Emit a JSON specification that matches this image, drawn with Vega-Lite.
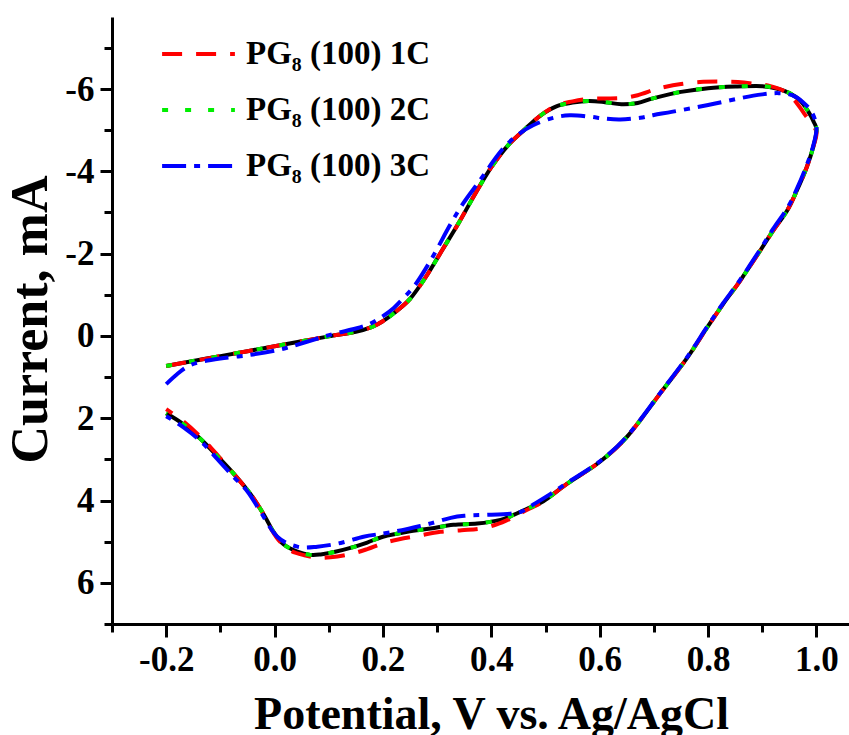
{
  "$schema": "https://vega.github.io/schema/vega-lite/v6.json",
  "width": 737,
  "height": 607,
  "autosize": {"type": "none"},
  "padding": {"left": 112, "top": 17, "right": 0, "bottom": 111},
  "background": "white",
  "config": {
    "view": {"stroke": null},
    "axis": {
      "grid": false,
      "domainColor": "black",
      "domainWidth": 3,
      "tickColor": "black",
      "tickWidth": 3,
      "labelColor": "black",
      "titleColor": "black",
      "labelFont": "Liberation Serif",
      "labelFontWeight": "bold",
      "titleFont": "Liberation Serif",
      "titleFontWeight": "bold",
      "labelOverlap": false,
      "labelFlush": false
    },
    "legend": {
      "title": null,
      "orient": "none",
      "legendX": 48,
      "legendY": 22,
      "symbolType": "stroke",
      "symbolSize": 5300,
      "symbolStrokeWidth": 4,
      "labelFontSize": 33,
      "labelFont": "Liberation Serif",
      "labelFontWeight": "bold",
      "labelColor": "black",
      "labelOffset": 9,
      "rowPadding": 23,
      "clipHeight": 30,
      "padding": 0,
      "labelLimit": 400
    }
  },
  "datasets": {
    "base": [
      {"i":1,"v":-0.2,"c":0.73},{"i":2,"v":-0.15,"c":0.61},{"i":3,"v":-0.1,"c":0.49},{"i":4,"v":-0.05,"c":0.37},{"i":5,"v":0.0,"c":0.25},{"i":6,"v":0.05,"c":0.13},{"i":7,"v":0.1,"c":0.01},{"i":8,"v":0.15,"c":-0.1},{"i":9,"v":0.18,"c":-0.22},{"i":10,"v":0.2,"c":-0.36},{"i":11,"v":0.22,"c":-0.55},{"i":12,"v":0.25,"c":-0.9},{"i":13,"v":0.28,"c":-1.45},{"i":14,"v":0.31,"c":-2.1},{"i":15,"v":0.34,"c":-2.75},{"i":16,"v":0.37,"c":-3.45},{"i":17,"v":0.4,"c":-4.1},{"i":18,"v":0.43,"c":-4.62},{"i":19,"v":0.46,"c":-5.0},{"i":20,"v":0.49,"c":-5.35},{"i":21,"v":0.52,"c":-5.58},{"i":22,"v":0.55,"c":-5.67},{"i":23,"v":0.58,"c":-5.71},{"i":24,"v":0.61,"c":-5.68},{"i":25,"v":0.64,"c":-5.63},{"i":26,"v":0.67,"c":-5.66},{"i":27,"v":0.7,"c":-5.78},{"i":28,"v":0.75,"c":-5.93},{"i":29,"v":0.8,"c":-6.02},{"i":30,"v":0.85,"c":-6.06},{"i":31,"v":0.9,"c":-6.07},{"i":32,"v":0.93,"c":-6.0},{"i":33,"v":0.95,"c":-5.9},{"i":34,"v":0.97,"c":-5.72},{"i":35,"v":0.985,"c":-5.45},{"i":36,"v":0.995,"c":-5.2},{"i":37,"v":1.0,"c":-5.0},
      {"i":38,"v":0.994,"c":-4.59},{"i":39,"v":0.982,"c":-4.1},{"i":40,"v":0.964,"c":-3.54},{"i":41,"v":0.946,"c":-3.05},{"i":42,"v":0.92,"c":-2.56},{"i":43,"v":0.896,"c":-2.07},{"i":44,"v":0.859,"c":-1.34},{"i":45,"v":0.828,"c":-0.78},{"i":46,"v":0.798,"c":-0.2},{"i":47,"v":0.761,"c":0.54},{"i":48,"v":0.712,"c":1.39},{"i":49,"v":0.651,"c":2.44},{"i":50,"v":0.601,"c":3.05},{"i":51,"v":0.54,"c":3.59},{"i":52,"v":0.496,"c":4.02},{"i":53,"v":0.466,"c":4.2},{"i":54,"v":0.441,"c":4.35},{"i":55,"v":0.417,"c":4.47},{"i":56,"v":0.374,"c":4.56},{"i":57,"v":0.33,"c":4.59},{"i":58,"v":0.288,"c":4.68},{"i":59,"v":0.245,"c":4.76},{"i":60,"v":0.2,"c":4.88},{"i":61,"v":0.171,"c":5.02},{"i":62,"v":0.14,"c":5.15},{"i":63,"v":0.11,"c":5.25},{"i":64,"v":0.085,"c":5.31},{"i":65,"v":0.066,"c":5.32},{"i":66,"v":0.042,"c":5.24},{"i":67,"v":0.017,"c":5.07},{"i":68,"v":-0.002,"c":4.76},{"i":69,"v":-0.02,"c":4.34},{"i":70,"v":-0.044,"c":3.85},{"i":71,"v":-0.076,"c":3.34},{"i":72,"v":-0.105,"c":2.93},{"i":73,"v":-0.136,"c":2.51},{"i":74,"v":-0.168,"c":2.15},{"i":75,"v":-0.2,"c":1.88}
    ],
    "cycles": [
      {"s":"PG₈ (100) 1C","i":1,"v":-0.2,"c":0.73},{"s":"PG₈ (100) 1C","i":2,"v":-0.15,"c":0.61},{"s":"PG₈ (100) 1C","i":3,"v":-0.1,"c":0.49},{"s":"PG₈ (100) 1C","i":4,"v":-0.05,"c":0.37},{"s":"PG₈ (100) 1C","i":5,"v":0.0,"c":0.25},{"s":"PG₈ (100) 1C","i":6,"v":0.05,"c":0.13},{"s":"PG₈ (100) 1C","i":7,"v":0.1,"c":0.01},{"s":"PG₈ (100) 1C","i":8,"v":0.15,"c":-0.1},{"s":"PG₈ (100) 1C","i":9,"v":0.18,"c":-0.22},{"s":"PG₈ (100) 1C","i":10,"v":0.2,"c":-0.36},{"s":"PG₈ (100) 1C","i":11,"v":0.22,"c":-0.55},{"s":"PG₈ (100) 1C","i":12,"v":0.25,"c":-0.9},{"s":"PG₈ (100) 1C","i":13,"v":0.28,"c":-1.45},{"s":"PG₈ (100) 1C","i":14,"v":0.31,"c":-2.1},{"s":"PG₈ (100) 1C","i":15,"v":0.34,"c":-2.75},{"s":"PG₈ (100) 1C","i":16,"v":0.37,"c":-3.45},{"s":"PG₈ (100) 1C","i":17,"v":0.4,"c":-4.1},{"s":"PG₈ (100) 1C","i":18,"v":0.43,"c":-4.62},{"s":"PG₈ (100) 1C","i":19,"v":0.46,"c":-5.0},{"s":"PG₈ (100) 1C","i":20,"v":0.49,"c":-5.35},{"s":"PG₈ (100) 1C","i":21,"v":0.52,"c":-5.6},{"s":"PG₈ (100) 1C","i":22,"v":0.55,"c":-5.7},{"s":"PG₈ (100) 1C","i":23,"v":0.58,"c":-5.76},{"s":"PG₈ (100) 1C","i":24,"v":0.61,"c":-5.77},{"s":"PG₈ (100) 1C","i":25,"v":0.64,"c":-5.78},{"s":"PG₈ (100) 1C","i":26,"v":0.67,"c":-5.85},{"s":"PG₈ (100) 1C","i":27,"v":0.7,"c":-5.98},{"s":"PG₈ (100) 1C","i":28,"v":0.72,"c":-6.05},{"s":"PG₈ (100) 1C","i":29,"v":0.75,"c":-6.12},{"s":"PG₈ (100) 1C","i":30,"v":0.785,"c":-6.17},{"s":"PG₈ (100) 1C","i":31,"v":0.82,"c":-6.18},{"s":"PG₈ (100) 1C","i":32,"v":0.855,"c":-6.17},{"s":"PG₈ (100) 1C","i":33,"v":0.89,"c":-6.12},{"s":"PG₈ (100) 1C","i":34,"v":0.915,"c":-6.07},{"s":"PG₈ (100) 1C","i":35,"v":0.94,"c":-5.95},{"s":"PG₈ (100) 1C","i":36,"v":0.96,"c":-5.72},{"s":"PG₈ (100) 1C","i":37,"v":0.977,"c":-5.41},{"s":"PG₈ (100) 1C","i":38,"v":0.99,"c":-5.17},{"s":"PG₈ (100) 1C","i":39,"v":1.0,"c":-4.95},
      {"s":"PG₈ (100) 1C","i":40,"v":0.994,"c":-4.59},{"s":"PG₈ (100) 1C","i":41,"v":0.982,"c":-4.1},{"s":"PG₈ (100) 1C","i":42,"v":0.964,"c":-3.54},{"s":"PG₈ (100) 1C","i":43,"v":0.946,"c":-3.05},{"s":"PG₈ (100) 1C","i":44,"v":0.92,"c":-2.56},{"s":"PG₈ (100) 1C","i":45,"v":0.896,"c":-2.07},{"s":"PG₈ (100) 1C","i":46,"v":0.859,"c":-1.34},{"s":"PG₈ (100) 1C","i":47,"v":0.828,"c":-0.78},{"s":"PG₈ (100) 1C","i":48,"v":0.798,"c":-0.2},{"s":"PG₈ (100) 1C","i":49,"v":0.761,"c":0.54},{"s":"PG₈ (100) 1C","i":50,"v":0.712,"c":1.39},{"s":"PG₈ (100) 1C","i":51,"v":0.651,"c":2.44},{"s":"PG₈ (100) 1C","i":52,"v":0.601,"c":3.05},{"s":"PG₈ (100) 1C","i":53,"v":0.54,"c":3.59},{"s":"PG₈ (100) 1C","i":54,"v":0.496,"c":4.02},{"s":"PG₈ (100) 1C","i":55,"v":0.459,"c":4.27},{"s":"PG₈ (100) 1C","i":56,"v":0.435,"c":4.44},{"s":"PG₈ (100) 1C","i":57,"v":0.41,"c":4.58},{"s":"PG₈ (100) 1C","i":58,"v":0.38,"c":4.68},{"s":"PG₈ (100) 1C","i":59,"v":0.345,"c":4.72},{"s":"PG₈ (100) 1C","i":60,"v":0.306,"c":4.76},{"s":"PG₈ (100) 1C","i":61,"v":0.264,"c":4.86},{"s":"PG₈ (100) 1C","i":62,"v":0.23,"c":4.94},{"s":"PG₈ (100) 1C","i":63,"v":0.2,"c":5.04},{"s":"PG₈ (100) 1C","i":64,"v":0.171,"c":5.18},{"s":"PG₈ (100) 1C","i":65,"v":0.14,"c":5.3},{"s":"PG₈ (100) 1C","i":66,"v":0.103,"c":5.38},{"s":"PG₈ (100) 1C","i":67,"v":0.08,"c":5.39},{"s":"PG₈ (100) 1C","i":68,"v":0.055,"c":5.33},{"s":"PG₈ (100) 1C","i":69,"v":0.03,"c":5.22},{"s":"PG₈ (100) 1C","i":70,"v":0.01,"c":5.0},{"s":"PG₈ (100) 1C","i":71,"v":-0.005,"c":4.72},{"s":"PG₈ (100) 1C","i":72,"v":-0.02,"c":4.34},{"s":"PG₈ (100) 1C","i":73,"v":-0.044,"c":3.85},{"s":"PG₈ (100) 1C","i":74,"v":-0.076,"c":3.34},{"s":"PG₈ (100) 1C","i":75,"v":-0.105,"c":2.9},{"s":"PG₈ (100) 1C","i":76,"v":-0.136,"c":2.46},{"s":"PG₈ (100) 1C","i":77,"v":-0.168,"c":2.08},{"s":"PG₈ (100) 1C","i":78,"v":-0.2,"c":1.78},

      {"s":"PG₈ (100) 2C","i":1,"v":-0.2,"c":0.73},{"s":"PG₈ (100) 2C","i":2,"v":-0.15,"c":0.61},{"s":"PG₈ (100) 2C","i":3,"v":-0.1,"c":0.49},{"s":"PG₈ (100) 2C","i":4,"v":-0.05,"c":0.37},{"s":"PG₈ (100) 2C","i":5,"v":0.0,"c":0.25},{"s":"PG₈ (100) 2C","i":6,"v":0.05,"c":0.13},{"s":"PG₈ (100) 2C","i":7,"v":0.1,"c":0.01},{"s":"PG₈ (100) 2C","i":8,"v":0.15,"c":-0.1},{"s":"PG₈ (100) 2C","i":9,"v":0.18,"c":-0.22},{"s":"PG₈ (100) 2C","i":10,"v":0.2,"c":-0.36},{"s":"PG₈ (100) 2C","i":11,"v":0.22,"c":-0.55},{"s":"PG₈ (100) 2C","i":12,"v":0.25,"c":-0.9},{"s":"PG₈ (100) 2C","i":13,"v":0.28,"c":-1.45},{"s":"PG₈ (100) 2C","i":14,"v":0.31,"c":-2.1},{"s":"PG₈ (100) 2C","i":15,"v":0.34,"c":-2.75},{"s":"PG₈ (100) 2C","i":16,"v":0.37,"c":-3.45},{"s":"PG₈ (100) 2C","i":17,"v":0.4,"c":-4.1},{"s":"PG₈ (100) 2C","i":18,"v":0.43,"c":-4.62},{"s":"PG₈ (100) 2C","i":19,"v":0.46,"c":-5.0},{"s":"PG₈ (100) 2C","i":20,"v":0.49,"c":-5.35},{"s":"PG₈ (100) 2C","i":21,"v":0.52,"c":-5.58},{"s":"PG₈ (100) 2C","i":22,"v":0.55,"c":-5.67},{"s":"PG₈ (100) 2C","i":23,"v":0.58,"c":-5.71},{"s":"PG₈ (100) 2C","i":24,"v":0.61,"c":-5.68},{"s":"PG₈ (100) 2C","i":25,"v":0.64,"c":-5.63},{"s":"PG₈ (100) 2C","i":26,"v":0.67,"c":-5.66},{"s":"PG₈ (100) 2C","i":27,"v":0.7,"c":-5.78},{"s":"PG₈ (100) 2C","i":28,"v":0.75,"c":-5.93},{"s":"PG₈ (100) 2C","i":29,"v":0.8,"c":-6.02},{"s":"PG₈ (100) 2C","i":30,"v":0.85,"c":-6.06},{"s":"PG₈ (100) 2C","i":31,"v":0.9,"c":-6.07},{"s":"PG₈ (100) 2C","i":32,"v":0.93,"c":-6.0},{"s":"PG₈ (100) 2C","i":33,"v":0.95,"c":-5.9},{"s":"PG₈ (100) 2C","i":34,"v":0.97,"c":-5.72},{"s":"PG₈ (100) 2C","i":35,"v":0.985,"c":-5.45},{"s":"PG₈ (100) 2C","i":36,"v":0.995,"c":-5.2},{"s":"PG₈ (100) 2C","i":37,"v":1.0,"c":-5.0},
      {"s":"PG₈ (100) 2C","i":38,"v":0.994,"c":-4.59},{"s":"PG₈ (100) 2C","i":39,"v":0.982,"c":-4.1},{"s":"PG₈ (100) 2C","i":40,"v":0.964,"c":-3.54},{"s":"PG₈ (100) 2C","i":41,"v":0.946,"c":-3.05},{"s":"PG₈ (100) 2C","i":42,"v":0.92,"c":-2.56},{"s":"PG₈ (100) 2C","i":43,"v":0.896,"c":-2.07},{"s":"PG₈ (100) 2C","i":44,"v":0.859,"c":-1.34},{"s":"PG₈ (100) 2C","i":45,"v":0.828,"c":-0.78},{"s":"PG₈ (100) 2C","i":46,"v":0.798,"c":-0.2},{"s":"PG₈ (100) 2C","i":47,"v":0.761,"c":0.54},{"s":"PG₈ (100) 2C","i":48,"v":0.712,"c":1.39},{"s":"PG₈ (100) 2C","i":49,"v":0.651,"c":2.44},{"s":"PG₈ (100) 2C","i":50,"v":0.601,"c":3.05},{"s":"PG₈ (100) 2C","i":51,"v":0.54,"c":3.59},{"s":"PG₈ (100) 2C","i":52,"v":0.496,"c":4.02},{"s":"PG₈ (100) 2C","i":53,"v":0.466,"c":4.2},{"s":"PG₈ (100) 2C","i":54,"v":0.441,"c":4.35},{"s":"PG₈ (100) 2C","i":55,"v":0.417,"c":4.47},{"s":"PG₈ (100) 2C","i":56,"v":0.374,"c":4.56},{"s":"PG₈ (100) 2C","i":57,"v":0.33,"c":4.59},{"s":"PG₈ (100) 2C","i":58,"v":0.288,"c":4.68},{"s":"PG₈ (100) 2C","i":59,"v":0.245,"c":4.76},{"s":"PG₈ (100) 2C","i":60,"v":0.2,"c":4.88},{"s":"PG₈ (100) 2C","i":61,"v":0.171,"c":5.02},{"s":"PG₈ (100) 2C","i":62,"v":0.14,"c":5.15},{"s":"PG₈ (100) 2C","i":63,"v":0.11,"c":5.25},{"s":"PG₈ (100) 2C","i":64,"v":0.085,"c":5.31},{"s":"PG₈ (100) 2C","i":65,"v":0.066,"c":5.32},{"s":"PG₈ (100) 2C","i":66,"v":0.042,"c":5.24},{"s":"PG₈ (100) 2C","i":67,"v":0.017,"c":5.07},{"s":"PG₈ (100) 2C","i":68,"v":-0.002,"c":4.76},{"s":"PG₈ (100) 2C","i":69,"v":-0.02,"c":4.34},{"s":"PG₈ (100) 2C","i":70,"v":-0.044,"c":3.85},{"s":"PG₈ (100) 2C","i":71,"v":-0.076,"c":3.34},{"s":"PG₈ (100) 2C","i":72,"v":-0.105,"c":2.93},{"s":"PG₈ (100) 2C","i":73,"v":-0.136,"c":2.51},{"s":"PG₈ (100) 2C","i":74,"v":-0.168,"c":2.15},{"s":"PG₈ (100) 2C","i":75,"v":-0.2,"c":1.88},

      {"s":"PG₈ (100) 3C","i":1,"v":-0.2,"c":1.17},{"s":"PG₈ (100) 3C","i":2,"v":-0.18,"c":0.93},{"s":"PG₈ (100) 3C","i":3,"v":-0.16,"c":0.74},{"s":"PG₈ (100) 3C","i":4,"v":-0.136,"c":0.63},{"s":"PG₈ (100) 3C","i":5,"v":-0.1,"c":0.55},{"s":"PG₈ (100) 3C","i":6,"v":-0.05,"c":0.47},{"s":"PG₈ (100) 3C","i":7,"v":0.0,"c":0.36},{"s":"PG₈ (100) 3C","i":8,"v":0.03,"c":0.26},{"s":"PG₈ (100) 3C","i":9,"v":0.07,"c":0.1},{"s":"PG₈ (100) 3C","i":10,"v":0.109,"c":-0.05},{"s":"PG₈ (100) 3C","i":11,"v":0.15,"c":-0.18},{"s":"PG₈ (100) 3C","i":12,"v":0.177,"c":-0.3},{"s":"PG₈ (100) 3C","i":13,"v":0.2,"c":-0.48},{"s":"PG₈ (100) 3C","i":14,"v":0.22,"c":-0.68},{"s":"PG₈ (100) 3C","i":15,"v":0.24,"c":-0.95},{"s":"PG₈ (100) 3C","i":16,"v":0.26,"c":-1.25},{"s":"PG₈ (100) 3C","i":17,"v":0.29,"c":-1.88},{"s":"PG₈ (100) 3C","i":18,"v":0.324,"c":-2.7},{"s":"PG₈ (100) 3C","i":19,"v":0.348,"c":-3.22},{"s":"PG₈ (100) 3C","i":20,"v":0.38,"c":-3.8},{"s":"PG₈ (100) 3C","i":21,"v":0.404,"c":-4.25},{"s":"PG₈ (100) 3C","i":22,"v":0.422,"c":-4.56},{"s":"PG₈ (100) 3C","i":23,"v":0.448,"c":-4.88},{"s":"PG₈ (100) 3C","i":24,"v":0.477,"c":-5.12},{"s":"PG₈ (100) 3C","i":25,"v":0.514,"c":-5.3},{"s":"PG₈ (100) 3C","i":26,"v":0.545,"c":-5.36},{"s":"PG₈ (100) 3C","i":27,"v":0.58,"c":-5.33},{"s":"PG₈ (100) 3C","i":28,"v":0.61,"c":-5.28},{"s":"PG₈ (100) 3C","i":29,"v":0.638,"c":-5.26},{"s":"PG₈ (100) 3C","i":30,"v":0.675,"c":-5.3},{"s":"PG₈ (100) 3C","i":31,"v":0.7,"c":-5.37},{"s":"PG₈ (100) 3C","i":32,"v":0.735,"c":-5.45},{"s":"PG₈ (100) 3C","i":33,"v":0.8,"c":-5.61},{"s":"PG₈ (100) 3C","i":34,"v":0.86,"c":-5.78},{"s":"PG₈ (100) 3C","i":35,"v":0.9,"c":-5.87},{"s":"PG₈ (100) 3C","i":36,"v":0.93,"c":-5.9},{"s":"PG₈ (100) 3C","i":37,"v":0.955,"c":-5.85},{"s":"PG₈ (100) 3C","i":38,"v":0.975,"c":-5.68},{"s":"PG₈ (100) 3C","i":39,"v":0.992,"c":-5.42},{"s":"PG₈ (100) 3C","i":40,"v":1.0,"c":-5.05},
      {"s":"PG₈ (100) 3C","i":41,"v":0.994,"c":-4.62},{"s":"PG₈ (100) 3C","i":42,"v":0.982,"c":-4.15},{"s":"PG₈ (100) 3C","i":43,"v":0.964,"c":-3.58},{"s":"PG₈ (100) 3C","i":44,"v":0.946,"c":-3.1},{"s":"PG₈ (100) 3C","i":45,"v":0.92,"c":-2.6},{"s":"PG₈ (100) 3C","i":46,"v":0.896,"c":-2.1},{"s":"PG₈ (100) 3C","i":47,"v":0.859,"c":-1.36},{"s":"PG₈ (100) 3C","i":48,"v":0.828,"c":-0.8},{"s":"PG₈ (100) 3C","i":49,"v":0.798,"c":-0.22},{"s":"PG₈ (100) 3C","i":50,"v":0.761,"c":0.52},{"s":"PG₈ (100) 3C","i":51,"v":0.712,"c":1.38},{"s":"PG₈ (100) 3C","i":52,"v":0.651,"c":2.43},{"s":"PG₈ (100) 3C","i":53,"v":0.601,"c":3.04},{"s":"PG₈ (100) 3C","i":54,"v":0.54,"c":3.57},{"s":"PG₈ (100) 3C","i":55,"v":0.508,"c":3.85},{"s":"PG₈ (100) 3C","i":56,"v":0.477,"c":4.1},{"s":"PG₈ (100) 3C","i":57,"v":0.455,"c":4.27},{"s":"PG₈ (100) 3C","i":58,"v":0.435,"c":4.32},{"s":"PG₈ (100) 3C","i":59,"v":0.386,"c":4.35},{"s":"PG₈ (100) 3C","i":60,"v":0.35,"c":4.37},{"s":"PG₈ (100) 3C","i":61,"v":0.325,"c":4.42},{"s":"PG₈ (100) 3C","i":62,"v":0.29,"c":4.55},{"s":"PG₈ (100) 3C","i":63,"v":0.269,"c":4.62},{"s":"PG₈ (100) 3C","i":64,"v":0.235,"c":4.72},{"s":"PG₈ (100) 3C","i":65,"v":0.201,"c":4.8},{"s":"PG₈ (100) 3C","i":66,"v":0.164,"c":4.88},{"s":"PG₈ (100) 3C","i":67,"v":0.122,"c":5.03},{"s":"PG₈ (100) 3C","i":68,"v":0.079,"c":5.12},{"s":"PG₈ (100) 3C","i":69,"v":0.042,"c":5.12},{"s":"PG₈ (100) 3C","i":70,"v":0.005,"c":4.88},{"s":"PG₈ (100) 3C","i":71,"v":-0.026,"c":4.27},{"s":"PG₈ (100) 3C","i":72,"v":-0.05,"c":3.78},{"s":"PG₈ (100) 3C","i":73,"v":-0.076,"c":3.42},{"s":"PG₈ (100) 3C","i":74,"v":-0.105,"c":3.0},{"s":"PG₈ (100) 3C","i":75,"v":-0.136,"c":2.56},{"s":"PG₈ (100) 3C","i":76,"v":-0.168,"c":2.22},{"s":"PG₈ (100) 3C","i":77,"v":-0.2,"c":1.95}
    ]
  },
  "layer": [
    {
      "data": {"name": "base"},
      "mark": {"type": "line", "color": "black", "strokeWidth": 4, "interpolate": "cardinal"},
      "encoding": {
        "x": {
          "field": "v", "type": "quantitative",
          "scale": {"domain": [-0.3, 1.06], "nice": false, "zero": false},
          "axis": {
            "values": [-0.3, -0.2, -0.1, 0.0, 0.1, 0.2, 0.3, 0.4, 0.5, 0.6, 0.7, 0.8, 0.9, 1.0],
            "labelExpr": "round(datum.value*10) % 2 == 0 ? replace(format(datum.value, '.1f'), '−', '-') : ''",
            "tickSize": {"condition": {"test": "round(datum.value*10) % 2 == 0", "value": 13}, "value": 8},
            "labelFontSize": 35,
            "labelPadding": 5,
            "title": "Potential, V vs. Ag/AgCl",
            "titleFontSize": 46,
            "titleX": 379,
            "titleY": 104,
            "titleAlign": "center",
            "titleBaseline": "alphabetic"
          }
        },
        "y": {
          "field": "c", "type": "quantitative",
          "scale": {"domain": [-7.75, 7], "nice": false, "zero": false, "reverse": true},
          "axis": {
            "values": [-7, -6, -5, -4, -3, -2, -1, 0, 1, 2, 3, 4, 5, 6, 7],
            "labelExpr": "datum.value % 2 == 0 ? replace(format(datum.value, 'd'), '−', '-') : ''",
            "tickSize": {"condition": {"test": "datum.value % 2 == 0", "value": 12}, "value": 8},
            "labelFontSize": 35,
            "labelPadding": 6,
            "title": "Current, mA",
            "titleFontSize": 52,
            "titleX": -66,
            "titleY": 302,
            "titleAngle": 270,
            "titleAlign": "center",
            "titleBaseline": "alphabetic"
          }
        },
        "order": {"field": "i", "type": "quantitative"}
      }
    },
    {
      "data": {"name": "cycles"},
      "mark": {"type": "line", "strokeWidth": 4, "interpolate": "cardinal"},
      "encoding": {
        "x": {"field": "v", "type": "quantitative"},
        "y": {"field": "c", "type": "quantitative"},
        "color": {
          "field": "s", "type": "nominal",
          "scale": {"domain": ["PG₈ (100) 1C", "PG₈ (100) 2C", "PG₈ (100) 3C"], "range": ["#ff0000", "#00ee00", "#0000ff"]}
        },
        "strokeDash": {
          "field": "s", "type": "nominal",
          "scale": {"domain": ["PG₈ (100) 1C", "PG₈ (100) 2C", "PG₈ (100) 3C"], "range": [[20, 14], [6, 17], [24, 8, 6, 8]]}
        },
        "order": {"field": "i", "type": "quantitative"}
      }
    }
  ]
}
